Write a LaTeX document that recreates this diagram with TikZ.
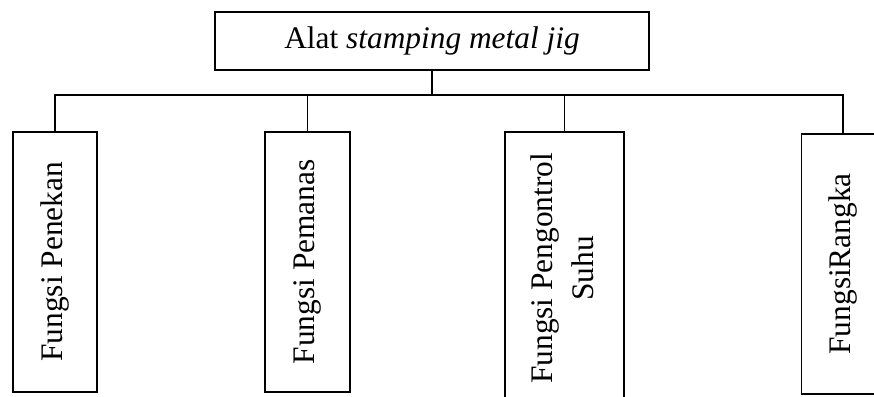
\documentclass[tikz,border=0pt]{standalone}
\usepackage{fontspec}
\setmainfont{Liberation Serif}
\usepackage{tikz}
\usetikzlibrary{positioning}

\begin{document}
\begin{tikzpicture}[x=1bp,y=1bp,
    every node/.style={font=\fontsize{31.5}{41}\selectfont},
    box/.style={draw,line width=1.6bp,inner sep=0pt},
    fbox/.style={box,anchor=north,minimum height=260bp}]
    \clip (0,0) rectangle (874,-396);
    % top box
    \node[box,minimum width=434bp,minimum height=58bp] (root) at (432,-41) {Alat \textit{stamping metal jig}};
    % function boxes
    \node[fbox,minimum width=84bp] (penekan) at (55,-131) {\rotatebox{90}{Fungsi Penekan}};
    \node[fbox,minimum width=85bp] (pemanas) at (307.5,-131) {\rotatebox{90}{Fungsi Pemanas}};
    \node[fbox,minimum width=119bp,minimum height=273bp] (suhu) at (564.5,-131)
        {\rotatebox{90}{\begin{tabular}{@{}c@{}}Fungsi Pengontrol\\Suhu\end{tabular}}};
    \node[fbox,minimum width=83bp] (rangka) at (843,-133) {\rotatebox{90}{FungsiRangka}};
    % connectors
    \coordinate (bus) at (0,-95);
    \draw[line width=1.6bp] (root.south) -- (root.south |- bus);
    \draw[line width=1.6bp] (penekan.north) -- (penekan.north |- bus) -- (rangka.north |- bus) -- (rangka.north);
    \foreach \f in {pemanas,suhu}
        \draw[line width=1.6bp] (\f.north) -- (\f.north |- bus);
\end{tikzpicture}
\end{document}
